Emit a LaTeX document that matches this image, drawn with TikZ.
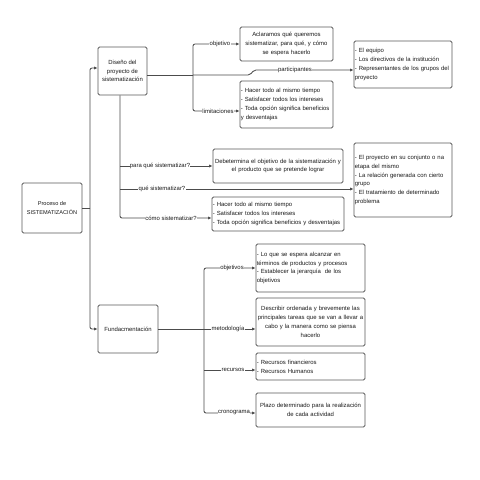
\documentclass[tikz,border=0pt]{standalone}
\usepackage{fontspec}
\setmainfont{Liberation Sans}
\usetikzlibrary{arrows.meta}
\newcommand\fs{\fontsize{5.95}{8.8}\selectfont}
\newcommand\ml[1]{\mbox{#1}}
\tikzset{
  box/.style={draw=black!65, line width=0.9pt, rounded corners=1.5pt, inner sep=0.8pt, font=\fs, text=black!90},
  lab/.style={fill=white, inner sep=0.4pt, font=\fs, text=black!90},
  con/.style={draw=black!70, line width=0.85pt, rounded corners=2pt},
  arr/.style={con, -{Latex[length=3.4pt,width=3.2pt]}},
}
\begin{document}
\begin{tikzpicture}[x=1pt,y=-1pt]
\fill[white] (0,0) rectangle (480,480);
\useasboundingbox (0,0) rectangle (480,480);

% boxes
\node[box, minimum width=60pt, minimum height=50pt, align=center, font=\fontsize{5.6}{8.8}\selectfont] (proc) at (52,208) {Proceso de\\SISTEMATIZACIÓN};
\node[box, minimum width=49pt, minimum height=48pt, align=center] (dis) at (122.5,71) {Diseño del\\proyecto de\\sistematización};
\node[box, minimum width=60pt, minimum height=48pt, align=center] (fund) at (128,329) {Fundacmentación};

\node[box, minimum width=93pt, minimum height=34pt, text width=91.4pt, align=center] (acl) at (286.5,44) {\ml{Aclaramos qué queremos}\\\ml{sistematizar, para qué, y cómo}\\\ml{se espera hacerlo}};
\node[box, minimum width=93pt, minimum height=47pt, text width=91.4pt, align=left] (lim) at (286.5,104.5) {\ml{- Hacer todo al mismo tiempo}\\\ml{- Satisfacer todos los intereses}\\\ml{- Toda opción significa beneficios}\\\ml{y desventajas}};
\node[box, minimum width=98pt, minimum height=47pt, text width=96.4pt, align=left] (part) at (403,64.5) {\ml{- El equipo}\\\ml{- Los directivos de la institución}\\\ml{- Representantes de los grupos del}\\\ml{proyecto}};

\node[box, minimum width=130pt, minimum height=34pt, text width=128.4pt, align=center] (deb) at (278,166) {\ml{Debetermina el objetivo de la sistematización y}\\\ml{el producto que se pretende lograr}};
\node[box, minimum width=98pt, minimum height=74pt, text width=96.4pt, align=left] (proy) at (403,180) {\ml{- El proyecto en su conjunto o na}\\\ml{etapa del mismo}\\\ml{- La relación generada con cierto}\\\ml{grupo}\\\ml{- El tratamiento de determinado}\\\ml{problema}};
\node[box, minimum width=132pt, minimum height=34pt, text width=130.4pt, align=left] (como) at (278,214) {\ml{- Hacer todo al mismo tiempo}\\\ml{- Satisfacer todos los intereses}\\\ml{- Toda opción significa beneficios y desventajas}};

\node[box, minimum width=109pt, minimum height=48pt, text width=107.4pt, align=left] (objb) at (310.5,268) {\ml{- Lo que se espera alcanzar en}\\\ml{términos de productos y procesos}\\\ml{- Establecer la jerarquía\ \ de los}\\\ml{objetivos}};
\node[box, minimum width=109pt, minimum height=48pt, text width=107.4pt, align=center] (met) at (310.5,322) {\ml{Describir ordenada y brevemente las}\\\ml{principales tareas que se van a llevar a}\\\ml{cabo y la manera como se piensa}\\\ml{hacerlo}};
\node[box, minimum width=109pt, minimum height=27pt, text width=107.4pt, align=left] (rec) at (310.5,366.5) {\ml{- Recursos financieros}\\\ml{- Recursos Humanos}};
\node[box, minimum width=109pt, minimum height=34pt, text width=107.4pt, align=center] (cron) at (310.5,410) {\ml{Plazo determinado para la realización}\\\ml{de cada actividad}};

% junction coordinates
\coordinate (t1) at (90,208);
\coordinate (b1) at (193,75);
\coordinate (k1) at (250,75);
\coordinate (k2) at (254,70);
\coordinate (b2) at (120,166);
\coordinate (b3) at (120,189);
\coordinate (b5) at (204,329);
\coordinate (b6) at (204,370);

% connectors
\draw[con] (proc.east) -- (t1);
\draw[arr] (t1) |- ([yshift=3pt]dis.west);
\draw[arr] (t1) |- (fund.west);

\draw[con] ([yshift=-4pt]dis.east) -- (b1);
\draw[arr] (b1) -- (k1) -- (k2) -- ([yshift=-5.5pt]part.west);
\draw[arr] (b1) |- (acl.west);
\draw[arr] (b1) |- ([yshift=-6.5pt]lim.west);

\draw[arr] ([xshift=-2.5pt]dis.south) |- ([yshift=-4pt]como.west);
\draw[arr] (b2) -- (deb.west);
\draw[arr] (b3) -- ([yshift=-9pt]proy.west);

\draw[arr] (fund.east) -- ([yshift=-7pt]met.west);
\draw[arr] (b5) |- (objb.west);
\draw[arr] (b5) |- ([yshift=-3pt]cron.west);
\draw[arr] (b6) -- ([yshift=-3.5pt]rec.west);

% labels
\node[lab] (l1) at (220,44) {objetivo};
\node[lab] (l2) at (295,70) {participantes};
\node[lab] (l3) at (218,111) {limitaciones};
\node[lab] (l4) at (160,166) {para qué sistematizar?};
\node[lab] (l5) at (162,189) {qué sistematizar?};
\node[lab] (l6) at (171,218) {cómo sistematizar?};
\node[lab] (l7) at (232,268) {objetivos};
\node[lab] (l8) at (228,329) {metodología};
\node[lab] (l9) at (233,370) {recursos};
\node[lab] (l10) at (234,413) {cronograma};
\end{tikzpicture}
\end{document}
